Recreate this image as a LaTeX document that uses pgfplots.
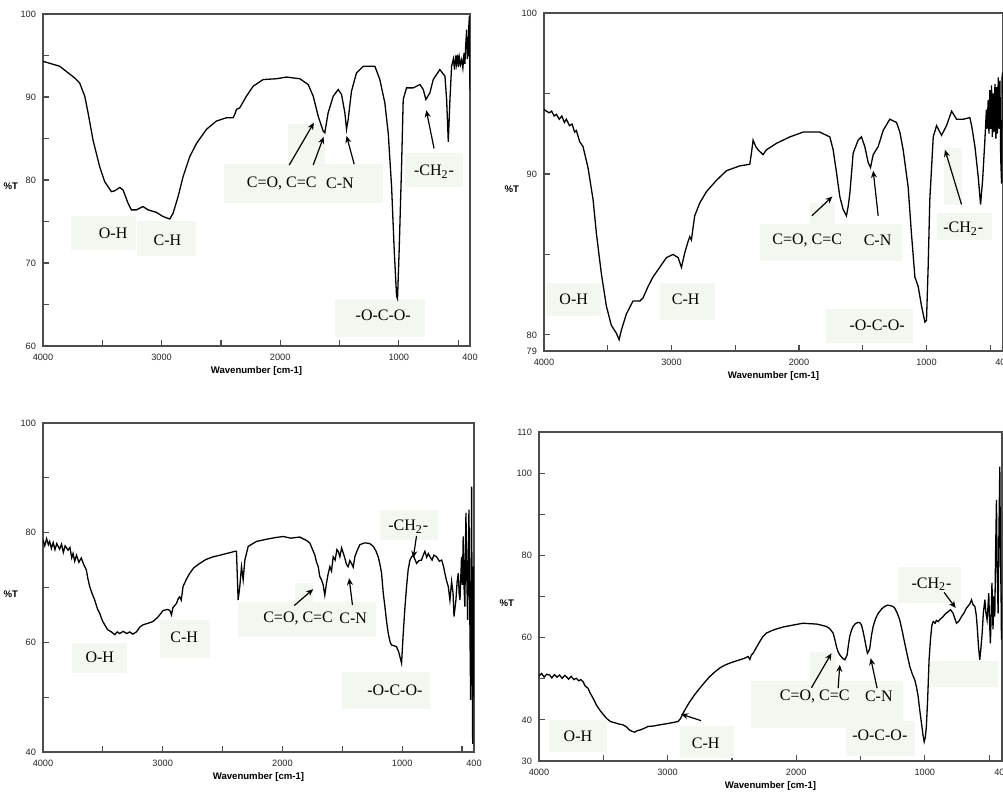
\documentclass[border=0pt]{standalone}
\usepackage{fontspec}
\setmainfont{Liberation Sans}
\newfontfamily\tnr{Liberation Serif}
\usepackage{pgfplots}
\pgfplotsset{compat=1.18}
\usetikzlibrary{arrows.meta}
\definecolor{boxfill}{RGB}{242,248,240}

\pgfplotsset{
  ir/.style={
    scale only axis, x dir=reverse, xmin=400, xmax=4000,
    axis line style={black!70, line width=0.8pt},
    tick align=inside, xtick pos=bottom, ytick pos=left,
    major tick length=3pt,
    tick style={black!70, line width=0.6pt},
    xtick={4000,3500,3000,2500,2000,1500,1000,500,400},
    xticklabels={4000,,3000,,2000,,1000,,400},
    ticklabel style={font=\fontsize{4.6}{5}\selectfont, text=black!85},
    xticklabel style={yshift=-0.5pt},
    xlabel={Wavenumber [cm-1]},
    ylabel={\%T},
    every axis x label/.style={at={(rel axis cs:0.5,0)}, anchor=north, yshift=-6.5pt, font=\fontsize{4.8}{5}\selectfont\bfseries},
    every axis y label/.style={at={(rel axis cs:0,0.48)}, anchor=east, xshift=-9pt, font=\fontsize{4.8}{5}\selectfont\bfseries},
    /pgf/number format/assume math mode=true,
  },
  spec/.style={black, line width=0.65pt, mark=none},
}
\tikzset{
  ann/.style={font=\tnr\fontsize{8}{9}\selectfont, inner sep=0pt},
  arr/.style={-{Stealth[length=3.5pt,width=3pt]}, line width=0.6pt},
}

\begin{document}
\begin{tikzpicture}

% ---- top left
\begin{axis}[ir, at={(21.5pt,223pt)}, anchor=south west, width=213.5pt, height=166pt,
  ymin=60, ymax=100, ytick={60,65,...,100}, yticklabels={60,,70,,80,,90,,100}]
  \fill[boxfill] (axis cs:3761,75.7) rectangle (axis cs:3212,71.6);
  \fill[boxfill] (axis cs:3206,75.0) rectangle (axis cs:2706,70.8);
  \fill[boxfill] (axis cs:2475,81.9) rectangle (axis cs:1131,77.2);
  \fill[boxfill] (axis cs:1932,86.7) rectangle (axis cs:1624,81.9);
  \fill[boxfill] (axis cs:950,83.3) rectangle (axis cs:458,79.2);
  \fill[boxfill] (axis cs:1539,65.7) rectangle (axis cs:780,61.1);
  \addplot[spec] coordinates {
    (4000,94.3) (3859,93.7) (3733,92.3) (3691,91.7) (3648,90.1) (3620,88.1) (3578,84.8)
    (3522,81.6) (3480,79.8) (3423,78.6) (3395,78.7) (3353,79.1) (3325,78.8) (3283,77.2)
    (3255,76.4) (3213,76.4) (3156,76.8) (3114,76.4) (3044,76.1) (2988,75.6) (2931,75.3)
    (2903,76.0) (2861,78.0) (2819,80.4) (2763,82.8) (2706,84.4) (2622,86.1) (2538,87.1)
    (2453,87.5) (2397,87.5) (2383,87.9) (2369,88.5) (2341,88.7) (2285,90.1) (2228,91.3)
    (2144,92.1) (2031,92.2) (1947,92.4) (1835,92.2) (1764,91.5) (1722,90.1) (1680,87.7)
    (1638,85.9) (1624,85.7) (1596,88.1) (1553,90.1) (1511,90.9) (1483,90.3) (1455,88.1)
    (1441,86.1) (1427,87.3) (1399,90.7) (1357,92.9) (1300,93.7) (1244,93.7) (1202,93.7)
    (1160,92.1) (1118,89.3) (1089,85.6) (1061,79.2) (1039,71.6) (1019,66.0) (1011,65.7)
    (997,71.6) (977,81.6) (963,89.7) (935,91.1) (878,91.1) (822,91.5) (794,90.9)
    (772,89.7) (738,90.5) (710,92.1) (654,93.3) (611,92.5) (597,89.7) (583,84.6)
    (569,89.7) (555,93.7) (540,94.6) (530,93.3) (520,95.0) (513,94.0) (505,95.1)
    (497,93.6) (490,94.8) (480,93.9) (470,94.5) (460,93.5) (450,95.3) (443,94.0)
    (435,96.5) (428,98.1) (422,94.6) (417,97.0) (414,94.9) (410,98.5) (405,99.7)
    (402,93.0) (400,90.9)
  };
  \node[ann] at (axis cs:3409,73.6) {O-H};
  \node[ann] at (axis cs:2951,72.7) {C-H};
  \node[ann] at (axis cs:1987,79.6) {C=O, C=C};
  \node[ann] at (axis cs:1497,79.6) {C-N};
  \node[ann] at (axis cs:703,81.0) {-CH\textsubscript{2}-};
  \node[ann] at (axis cs:1131,63.7) {-O-C-O-};
  \draw[arr] (axis cs:1924,81.8) -- (axis cs:1716,86.9);
  \draw[arr] (axis cs:1722,81.8) -- (axis cs:1634,85.2);
  \draw[arr] (axis cs:1376,81.9) -- (axis cs:1441,85.3);
  \draw[arr] (axis cs:703,83.8) -- (axis cs:768,88.4);
\end{axis}

% ---- top right
\begin{axis}[ir, at={(272pt,220.5pt)}, anchor=south west, width=229.5pt, height=169pt,
  ymin=79, ymax=100, ytick={79,80,85,90,95,100}, yticklabels={79,80,,90,,100}]
  \fill[boxfill] (axis cs:3982,83.2) rectangle (axis cs:3550,81.2);
  \fill[boxfill] (axis cs:3093,83.2) rectangle (axis cs:2662,80.9);
  \fill[boxfill] (axis cs:2307,86.9) rectangle (axis cs:1195,84.6);
  \fill[boxfill] (axis cs:1915,88.2) rectangle (axis cs:1719,86.8);
  \fill[boxfill] (axis cs:919,87.6) rectangle (axis cs:488,85.9);
  \fill[boxfill] (axis cs:866,91.6) rectangle (axis cs:723,88.1);
  \fill[boxfill] (axis cs:1785,81.6) rectangle (axis cs:1104,79.5);
  \addplot[spec] coordinates {
    (4000,94.0) (3960,93.8) (3940,93.9) (3920,93.6) (3903,93.7) (3880,93.4) (3860,93.6)
    (3840,93.2) (3825,93.4) (3800,93.0) (3780,93.1) (3760,92.6) (3746,92.7) (3720,92.0)
    (3694,91.7) (3655,90.4) (3615,88.4) (3589,86.3) (3550,83.8) (3511,81.8) (3472,80.6)
    (3432,80.1) (3411,79.7) (3393,80.3) (3354,81.3) (3302,82.1) (3249,82.1) (3223,82.3)
    (3184,83.0) (3145,83.6) (3092,84.2) (3040,84.8) (2988,85.0) (2948,84.8) (2922,84.2)
    (2896,85.1) (2870,85.8) (2857,86.1) (2844,85.9) (2818,87.4) (2778,88.2) (2726,88.9)
    (2648,89.6) (2569,90.2) (2465,90.5) (2386,90.6) (2373,91.3) (2360,92.1) (2339,91.7)
    (2321,91.5) (2282,91.2) (2255,91.5) (2177,91.9) (2072,92.3) (1968,92.6) (1837,92.6)
    (1758,92.3) (1732,91.5) (1706,90.1) (1680,88.6) (1654,87.8) (1628,87.4) (1614,88.0)
    (1601,88.8) (1575,91.3) (1536,92.1) (1510,92.3) (1484,91.7) (1457,90.7) (1439,90.4)
    (1418,91.2) (1379,91.7) (1340,92.7) (1288,93.4) (1235,93.2) (1209,92.6) (1183,91.5)
    (1144,89.2) (1118,86.3) (1091,83.6) (1065,83.0) (1039,81.8) (1013,80.8) (1000,80.9)
    (987,84.2) (974,88.4) (947,92.3) (921,93.0) (882,92.4) (843,93.0) (803,93.9)
    (764,93.4) (712,93.4) (660,93.5) (646,93.0) (620,91.7) (594,89.8) (576,88.1)
    (560,89.6) (542,92.1) (530,94.0) (525,92.8) (516,94.6) (510,92.5) (503,95.2)
    (497,92.8) (490,95.5) (484,92.3) (477,95.0) (470,92.6) (463,95.6) (456,92.2)
    (450,95.4) (444,92.5) (437,96.0) (430,92.8) (424,95.8) (418,91.0) (411,89.4)
    (407,96.0) (403,96.3) (400,95.0)
  };
  \node[ann] at (axis cs:3767,82.2) {O-H};
  \node[ann] at (axis cs:2888,82.2) {C-H};
  \node[ann] at (axis cs:1936,85.9) {C=O, C=C};
  \node[ann] at (axis cs:1384,85.9) {C-N};
  \node[ann] at (axis cs:712,86.6) {-CH\textsubscript{2}-};
  \node[ann] at (axis cs:1387,80.6) {-O-C-O-};
  \draw[arr] (axis cs:1899,87.4) -- (axis cs:1738,88.6);
  \draw[arr] (axis cs:1379,87.4) -- (axis cs:1418,90.2);
  \draw[arr] (axis cs:725,88.1) -- (axis cs:855,91.5);
\end{axis}

% ---- bottom left
\begin{axis}[ir, at={(21.5pt,20pt)}, anchor=south west, width=215.5pt, height=164.5pt,
  ymin=40, ymax=100, ytick={40,50,...,100}, yticklabels={40,,60,,80,,100}]
  \fill[boxfill] (axis cs:3754,59.8) rectangle (axis cs:3298,54.4);
  \fill[boxfill] (axis cs:3025,64.1) rectangle (axis cs:2601,57.1);
  \fill[boxfill] (axis cs:2370,67.4) rectangle (axis cs:1219,60.9);
  \fill[boxfill] (axis cs:1896,70.9) rectangle (axis cs:1743,67.4);
  \fill[boxfill] (axis cs:1186,84.2) rectangle (axis cs:698,78.7);
  \fill[boxfill] (axis cs:1506,54.6) rectangle (axis cs:768,47.9);
  \addplot[spec] coordinates {
    (4000,78.7) (3985,77.6) (3970,78.9) (3955,77.8) (3944,78.4) (3930,77.1) (3915,78.2)
    (3900,76.9) (3885,78.0) (3861,77.0) (3845,77.9) (3830,76.4) (3815,77.6) (3791,76.8)
    (3775,77.3) (3760,75.4) (3749,76.2) (3735,74.8) (3720,75.9) (3700,74.6) (3680,75.4)
    (3660,74.2) (3638,73.2) (3625,71.6) (3610,70.2) (3590,68.9) (3568,67.7) (3545,66.1)
    (3526,65.3) (3505,64.0) (3485,63.2) (3460,62.3) (3429,61.9) (3400,61.4) (3380,61.9)
    (3359,61.6) (3330,62.0) (3300,61.6) (3276,61.9) (3250,61.5) (3220,61.9) (3190,62.8)
    (3164,63.2) (3120,63.5) (3081,63.8) (3040,64.6) (2997,65.8) (2960,66.0) (2940,65.8)
    (2927,65.0) (2915,66.3) (2885,67.1) (2870,68.0) (2858,68.3) (2845,67.7) (2830,70.2)
    (2800,71.6) (2774,72.6) (2740,73.6) (2690,74.4) (2640,75.1) (2579,75.6) (2520,75.9)
    (2468,76.2) (2430,76.4) (2398,76.6) (2384,76.6) (2370,67.7) (2356,70.2) (2342,73.8)
    (2328,71.4) (2314,75.0) (2286,77.5) (2217,78.4) (2133,78.8) (2060,79.1) (1994,79.3)
    (1930,79.0) (1855,79.2) (1800,78.6) (1771,78.1) (1750,77.0) (1729,75.9) (1715,74.6)
    (1701,73.8) (1688,72.0) (1674,71.4) (1660,70.5) (1646,68.6) (1632,70.8) (1618,72.5)
    (1604,73.8) (1590,73.0) (1576,75.6) (1560,75.0) (1545,76.9) (1534,76.6) (1520,75.6)
    (1506,77.2) (1492,76.3) (1478,75.3) (1465,74.2) (1451,73.8) (1437,74.9) (1423,74.4)
    (1409,73.7) (1395,75.6) (1375,76.8) (1353,77.8) (1320,78.1) (1297,78.1) (1270,78.0)
    (1242,77.5) (1220,76.7) (1200,75.6) (1186,74.3) (1172,72.6) (1158,69.0) (1144,66.5)
    (1130,63.8) (1116,61.6) (1100,60.0) (1088,59.5) (1070,59.4) (1047,59.2) (1030,58.3)
    (1019,57.4) (1005,56.2) (991,61.6) (977,66.3) (963,70.2) (950,73.2) (935,75.0)
    (921,75.6) (907,75.9) (893,75.1) (879,74.4) (860,74.9) (838,75.0) (824,75.9)
    (810,76.6) (795,75.5) (782,76.2) (768,75.6) (750,75.0) (735,75.9) (712,75.6)
    (690,74.8) (670,75.0) (655,73.9) (643,72.6) (630,71.3) (615,70.2) (601,67.7)
    (587,71.1) (575,69.0) (567,64.7) (560,66.0) (551,67.7) (541,71.0) (531,72.6)
    (524,69.0) (517,67.7) (510,72.0) (504,75.6) (497,70.5) (490,79.3) (483,70.0)
    (476,66.5) (471,78.0) (467,83.6) (460,72.0) (453,64.1) (448,75.0) (442,84.2)
    (435,65.0) (428,49.5) (424,70.0) (420,88.4) (415,60.0) (411,41.5) (408,60.0)
    (406,73.8) (403,50.0) (400,55.5)
  };
  \node[ann] at (axis cs:3526,57.2) {O-H};
  \node[ann] at (axis cs:2821,61.0) {C-H};
  \node[ann] at (axis cs:1869,64.4) {C=O, C=C};
  \node[ann] at (axis cs:1409,64.4) {C-N};
  \node[ann] at (axis cs:949,81.1) {-CH\textsubscript{2}-};
  \node[ann] at (axis cs:1061,51.3) {-O-C-O-};
  \draw[arr] (axis cs:1902,66.7) -- (axis cs:1743,69.7);
  \draw[arr] (axis cs:1415,66.8) -- (axis cs:1443,71.7);
  \draw[arr] (axis cs:880,79.4) -- (axis cs:907,75.4);
\end{axis}

% ---- bottom right
\begin{axis}[ir, at={(269.5pt,15.5pt)}, anchor=south west, width=231.5pt, height=164.5pt,
  ymin=30, ymax=110, ytick={30,40,...,110}, yticklabels={30,40,,60,,80,,100,110}]
  \fill[boxfill] (axis cs:3922,39.97) rectangle (axis cs:3471,32.3);
  \fill[boxfill] (axis cs:2906,38.4) rectangle (axis cs:2483,30.7);
  \fill[boxfill] (axis cs:2348,49.5) rectangle (axis cs:1167,38.0);
  \fill[boxfill] (axis cs:1895,56.6) rectangle (axis cs:1687,48.1);
  \fill[boxfill] (axis cs:1614,39.8) rectangle (axis cs:1078,31.1);
  \fill[boxfill] (axis cs:1208,77.1) rectangle (axis cs:715,68.4);
  \fill[boxfill] (axis cs:960,54.4) rectangle (axis cs:428,47.9);
  \addplot[spec] coordinates {
    (4000,50.7) (3980,51.3) (3960,50.4) (3940,51.1) (3917,50.9) (3900,50.2) (3880,51.0)
    (3860,50.4) (3840,50.9) (3820,50.1) (3800,50.8) (3787,50.5) (3770,49.9) (3750,50.6)
    (3730,49.8) (3710,50.1) (3690,49.5) (3675,49.8) (3658,49.3) (3640,48.2) (3619,47.7)
    (3600,46.4) (3580,45.3) (3555,43.7) (3528,42.4) (3500,41.3) (3476,40.4) (3445,39.6)
    (3411,39.3) (3380,39.0) (3347,38.8) (3320,38.3) (3295,37.5) (3275,37.2) (3256,37.0)
    (3235,37.4) (3217,37.5) (3185,37.9) (3152,38.4) (3110,38.5) (3061,38.8) (3020,39.0)
    (2984,39.2) (2950,39.4) (2919,39.6) (2900,40.3) (2880,41.6) (2855,43.0) (2828,44.4)
    (2790,46.1) (2750,47.7) (2710,49.2) (2673,50.5) (2635,51.6) (2595,52.6) (2555,53.3)
    (2517,53.8) (2480,54.2) (2439,54.6) (2400,55.0) (2374,55.4) (2361,54.7) (2348,55.8)
    (2335,56.2) (2310,57.6) (2284,59.0) (2260,60.2) (2232,61.1) (2190,61.7) (2154,62.1)
    (2100,62.6) (2050,62.9) (2000,63.2) (1947,63.5) (1900,63.4) (1843,63.3) (1800,63.0)
    (1765,62.7) (1740,62.2) (1713,61.1) (1700,59.6) (1687,57.8) (1675,56.6) (1661,55.8)
    (1640,55.0) (1622,54.6) (1604,55.8) (1595,58.0) (1584,60.3) (1570,61.8) (1558,62.7)
    (1540,63.4) (1519,63.7) (1505,63.6) (1493,63.1) (1480,61.5) (1467,59.5) (1455,57.5)
    (1446,56.2) (1438,56.6) (1428,57.4) (1415,60.5) (1402,62.7) (1383,64.6) (1363,65.9)
    (1335,67.0) (1311,67.6) (1290,67.9) (1272,67.8) (1250,67.6) (1234,67.2) (1215,66.0)
    (1195,64.3) (1175,61.5) (1156,58.6) (1136,55.7) (1117,53.0) (1098,51.2) (1078,49.7)
    (1065,48.0) (1052,45.7) (1040,42.5) (1026,39.2) (1015,36.5) (1005,34.7) (996,35.8)
    (988,38.4) (978,45.0) (967,54.6) (955,60.0) (945,63.0) (935,63.9) (920,63.5)
    (910,64.2) (897,63.9) (880,64.5) (858,65.1) (840,65.8) (819,66.3) (800,66.8)
    (780,65.9) (765,64.5) (754,63.5) (735,64.0) (715,65.1) (695,66.0) (676,67.2)
    (660,67.8) (650,68.2) (637,69.2) (625,68.0) (611,67.6) (600,65.5) (593,62.7)
    (583,58.0) (573,54.6) (565,57.0) (554,61.1) (545,66.0) (533,69.2) (525,66.0)
    (516,64.3) (510,67.0) (503,70.8) (497,64.0) (490,58.6) (484,66.0) (478,73.3)
    (470,62.0) (463,70.0) (456,65.1) (450,80.0) (443,93.5) (437,75.0) (430,65.9)
    (424,85.0) (417,101.6) (412,80.0) (407,70.0) (404,59.5) (400,70.0)
  };
  \node[ann] at (axis cs:3697,35.9) {O-H};
  \node[ann] at (axis cs:2704,34.3) {C-H};
  \node[ann] at (axis cs:1856,45.8) {C=O, C=C};
  \node[ann] at (axis cs:1358,45.8) {C-N};
  \node[ann] at (axis cs:1350,36.3) {-O-C-O-};
  \node[ann] at (axis cs:948,73.0) {-CH\textsubscript{2}-};
  \draw[arr] (axis cs:2740,39.8) -- (axis cs:2895,41.4);
  \draw[arr] (axis cs:1882,47.8) -- (axis cs:1726,56.2);
  \draw[arr] (axis cs:1674,47.7) -- (axis cs:1661,53.4);
  \draw[arr] (axis cs:1371,47.7) -- (axis cs:1421,55.0);
  \draw[arr] (axis cs:850,71.0) -- (axis cs:760,67.2);
\end{axis}

\pgfresetboundingbox
\useasboundingbox (0,0) rectangle (501.5pt,396pt);
\end{tikzpicture}
\end{document}
